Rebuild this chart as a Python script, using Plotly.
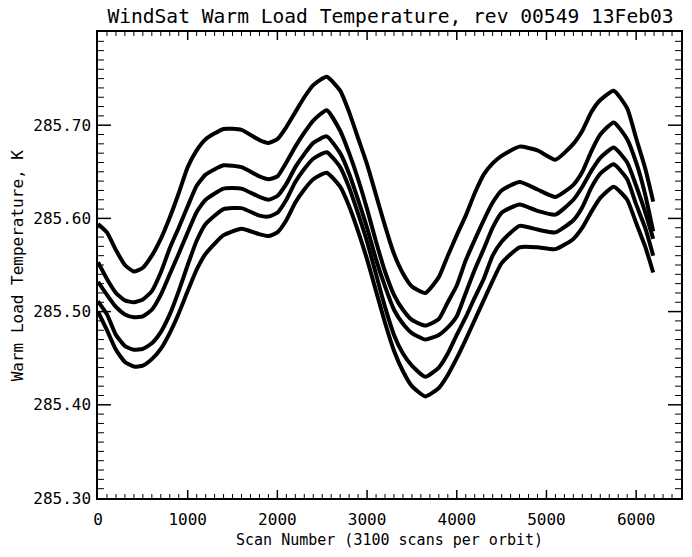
import plotly.graph_objects as go

scans = [0, 100, 200, 300, 400, 500, 600, 700, 800, 900, 1000, 1100, 1200, 1400, 1600,
         1800, 1900, 2000, 2100, 2200, 2300, 2400, 2550, 2700, 2800, 2900, 3000, 3100,
         3200, 3300, 3400, 3500, 3650, 3800, 3900, 4000, 4100, 4200, 4300, 4400, 4500,
         4700, 4900, 5100, 5300, 5400, 5500, 5600, 5750, 5900, 6000, 6100, 6190]

load_1 = [285.594, 285.585, 285.566, 285.550, 285.543, 285.547, 285.560, 285.578, 285.601,
          285.627, 285.655, 285.673, 285.685, 285.696, 285.695, 285.684, 285.681, 285.685,
          285.698, 285.714, 285.730, 285.743, 285.752, 285.737, 285.714, 285.686, 285.658,
          285.625, 285.592, 285.562, 285.541, 285.527, 285.520, 285.537, 285.560, 285.582,
          285.603, 285.627, 285.647, 285.659, 285.667, 285.677, 285.673, 285.663, 285.680,
          285.694, 285.714, 285.727, 285.737, 285.718, 285.686, 285.654, 285.618]

load_2 = [285.553, 285.535, 285.520, 285.512, 285.510, 285.513, 285.522, 285.542, 285.568,
          285.590, 285.613, 285.635, 285.647, 285.657, 285.655, 285.645, 285.642, 285.645,
          285.660, 285.677, 285.692, 285.705, 285.716, 285.694, 285.670, 285.642, 285.610,
          285.575, 285.543, 285.518, 285.502, 285.491, 285.485, 285.492, 285.510, 285.528,
          285.555, 285.577, 285.598, 285.617, 285.630, 285.639, 285.631, 285.623, 285.636,
          285.650, 285.672, 285.690, 285.703, 285.685, 285.660, 285.626, 285.586]

load_3 = [285.532, 285.518, 285.505, 285.497, 285.494, 285.495, 285.502, 285.518, 285.540,
          285.562, 285.585, 285.607, 285.620, 285.632, 285.632, 285.623, 285.620, 285.624,
          285.637, 285.655, 285.669, 285.681, 285.688, 285.670, 285.648, 285.620, 285.590,
          285.556, 285.527, 285.502, 285.487, 285.477, 285.470, 285.475, 285.483, 285.495,
          285.520, 285.545, 285.567, 285.590, 285.606, 285.615, 285.608, 285.604, 285.620,
          285.634, 285.651, 285.665, 285.676, 285.660, 285.635, 285.607, 285.578]

load_4 = [285.511, 285.497, 285.475, 285.463, 285.459, 285.460, 285.466, 285.478, 285.497,
          285.522, 285.550, 285.576, 285.594, 285.610, 285.611, 285.603, 285.602, 285.606,
          285.620, 285.639, 285.653, 285.664, 285.671, 285.655, 285.633, 285.605, 285.575,
          285.540, 285.505, 285.475, 285.455, 285.442, 285.430, 285.440, 285.455, 285.475,
          285.494, 285.515, 285.535, 285.560, 285.575, 285.592, 285.588, 285.585, 285.598,
          285.612, 285.633, 285.648, 285.658, 285.642, 285.615, 285.590, 285.560]

load_5 = [285.500, 285.480, 285.459, 285.446, 285.441, 285.442, 285.449, 285.460, 285.477,
          285.498, 285.522, 285.545, 285.562, 285.582, 285.589, 285.583, 285.581, 285.585,
          285.598, 285.617, 285.631, 285.642, 285.649, 285.634, 285.613, 285.586, 285.556,
          285.522, 285.488, 285.458, 285.436, 285.420, 285.409, 285.418, 285.432, 285.450,
          285.470, 285.491, 285.512, 285.533, 285.552, 285.569, 285.569, 285.567, 285.578,
          285.590, 285.607, 285.622, 285.634, 285.620, 285.595, 285.570, 285.542]

series = [load_1, load_2, load_3, load_4, load_5]

x_ticks = [0, 1000, 2000, 3000, 4000, 5000, 6000]
y_ticks = [285.30, 285.40, 285.50, 285.60, 285.70]
y_tick_text = ["285.30", "285.40", "285.50", "285.60", "285.70"]
x_range = [0, 6500]
y_range = [285.30, 285.80]
x_minor_step = 100
y_minor_step = 0.01

title_text = "WindSat Warm Load Temperature, rev 00549 13Feb03"
x_title = "Scan Number (3100 scans per orbit)"
y_title = "Warm Load Temperature, K"

FONT = "DejaVu Sans Mono"
PLOT_W, PLOT_H = 585, 466   # plot area size in px (692-98-9, 557-32-59)

fig = go.Figure()
for s in series:
    fig.add_trace(go.Scatter(
        x=scans, y=s, mode="lines",
        line=dict(color="black", width=4, shape="spline", smoothing=0.5),
        showlegend=False))

# Inward tick marks on all four sides (IDL style), placed via the axis scales
shapes = []
def xtick(v, length_px, width):
    f = length_px / PLOT_H
    for y0, y1 in ((0, f), (1, 1 - f)):
        shapes.append(dict(type="line", xref="x", yref="y domain", x0=v, x1=v,
                           y0=y0, y1=y1, line=dict(color="black", width=width),
                           layer="above"))

def ytick(v, length_px, width):
    f = length_px / PLOT_W
    for x0, x1 in ((0, f), (1, 1 - f)):
        shapes.append(dict(type="line", xref="x domain", yref="y", x0=x0, x1=x1,
                           y0=v, y1=v, line=dict(color="black", width=width),
                           layer="above"))

n_xminor = int(round((x_range[1] - x_range[0]) / x_minor_step))
for i in range(1, n_xminor):
    v = x_range[0] + i * x_minor_step
    if v in x_ticks:
        xtick(v, 8, 1.5)
    else:
        xtick(v, 4, 1)

n_yminor = int(round((y_range[1] - y_range[0]) / y_minor_step))
for i in range(1, n_yminor):
    v = round(y_range[0] + i * y_minor_step, 2)
    if any(abs(v - t) < 1e-6 for t in y_ticks):
        ytick(v, 13, 1.5)
    else:
        ytick(v, 6, 1)

fig.update_layout(
    width=692, height=557,
    margin=dict(l=98, r=9, t=32, b=59),
    paper_bgcolor="white", plot_bgcolor="white",
    shapes=shapes,
    xaxis=dict(range=x_range, tickmode="array", tickvals=x_ticks, ticks="",
               showline=True, linecolor="black", linewidth=1.5, mirror=True,
               showgrid=False, zeroline=False, ticklabelstandoff=6,
               tickfont=dict(family=FONT, size=16, color="black")),
    yaxis=dict(range=y_range, tickmode="array", tickvals=y_ticks, ticktext=y_tick_text,
               ticks="", showline=True, linecolor="black", linewidth=1.5, mirror=True,
               showgrid=False, zeroline=False, ticklabelstandoff=2,
               tickfont=dict(family=FONT, size=16, color="black")),
    title=dict(text=title_text, x=(98 + 683) / 2 / 692, xanchor="center",
               y=1 - 16 / 557, yanchor="middle",
               font=dict(family=FONT, size=19.6, color="black")),
    annotations=[
        dict(text=x_title, xref="paper", yref="paper", x=0.5, y=(498 - 540) / 466,
             xanchor="center", yanchor="middle", showarrow=False,
             font=dict(family=FONT, size=15, color="black")),
        dict(text=y_title, xref="paper", yref="paper", x=(17 - 98) / 585, y=0.5,
             xanchor="center", yanchor="middle", showarrow=False, textangle=-90,
             font=dict(family=FONT, size=16, color="black")),
    ],
)

fig.write_html("out.html")
